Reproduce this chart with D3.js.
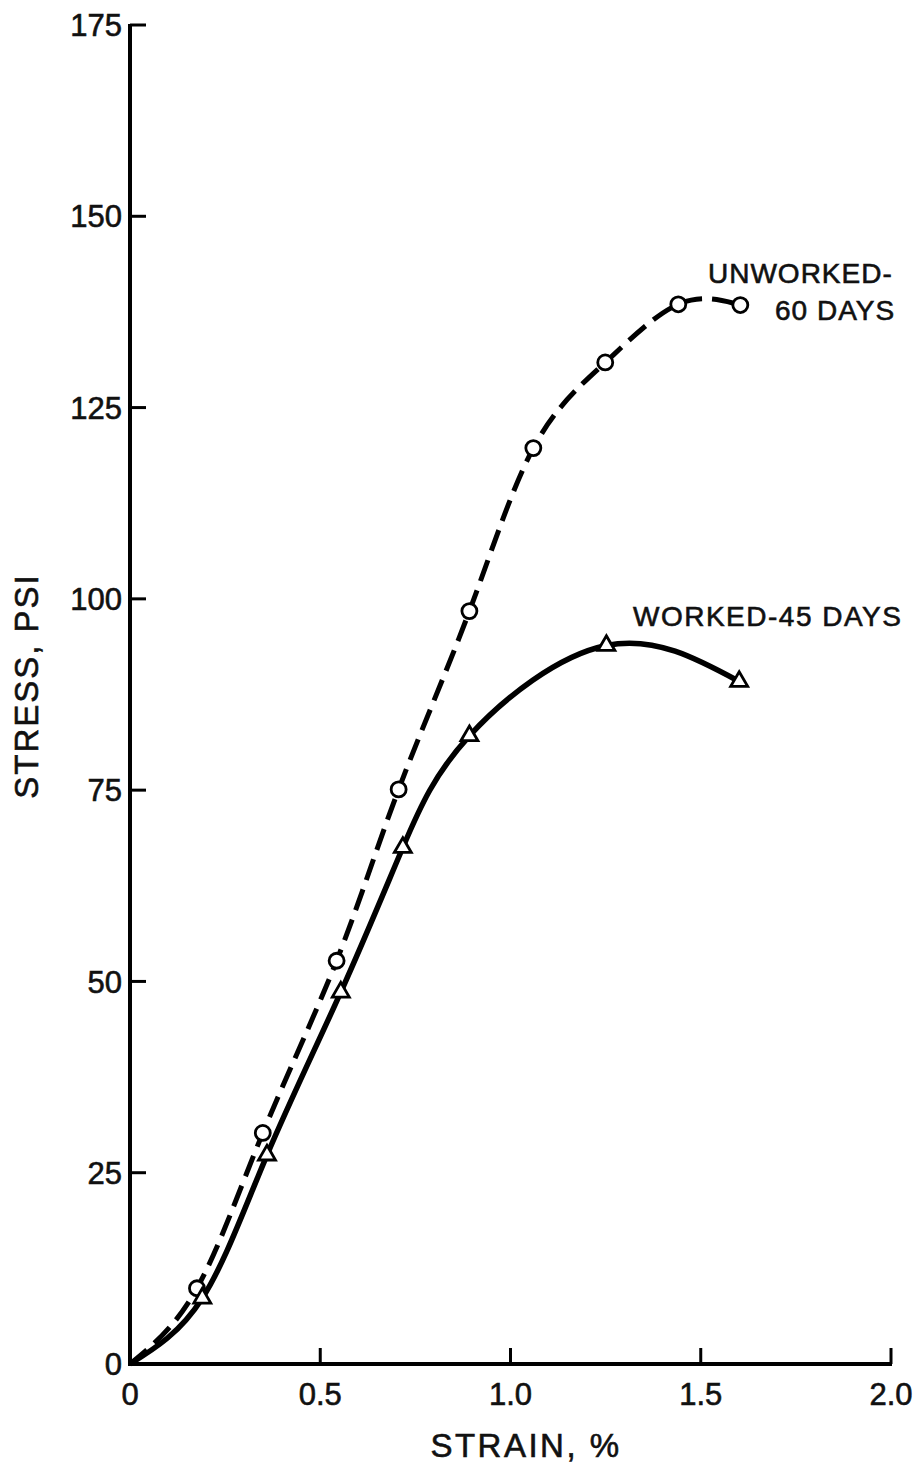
<!DOCTYPE html>
<html>
<head>
<meta charset="utf-8">
<script src="https://cdn.jsdelivr.net/npm/d3@7"></script>
<style>
  html, body { margin: 0; padding: 0; background: #fff; }
  svg { display: block; }
  text { font-family: "Liberation Sans", Arial, sans-serif; fill: #111; stroke: #111; stroke-width: 0.6; }
</style>
</head>
<body>
<svg id="chart" width="922" height="1472"></svg>
<script>
// ---- data ----
const unworkedStrain = [0.176, 0.349, 0.543, 0.706, 0.892, 1.060, 1.249, 1.441, 1.604];
const unworkedStress = [9.9, 30.2, 52.7, 75.1, 98.4, 119.7, 130.9, 138.5, 138.4];
const workedStrain = [0.19, 0.36, 0.554, 0.717, 0.892, 1.252, 1.601];
const workedStress = [8.6, 27.3, 48.6, 67.5, 82.1, 93.9, 89.2];
const curveOrigin = [0, 0];
const xTicks = [0, 0.5, 1.0, 1.5, 2.0];
const xTickLabels = ["0", "0.5", "1.0", "1.5", "2.0"];
const yTicks = [0, 25, 50, 75, 100, 125, 150, 175];
const yTickLabels = ["0", "25", "50", "75", "100", "125", "150", "175"];

// ---- scales ----
const svg = d3.select("#chart");
const x = d3.scaleLinear().domain([0, 2.0]).range([130, 891]);
const y = d3.scaleLinear().domain([0, 175]).range([1364, 25]);

// axes lines
const axisG = svg.append("g");
axisG.append("line").attr("x1", x(0)).attr("x2", x(0)).attr("y1", y(175) - 1).attr("y2", y(0) + 2)
  .attr("stroke", "#000").attr("stroke-width", 4);
axisG.append("line").attr("x1", x(0) - 2).attr("x2", x(2.0) + 1).attr("y1", y(0)).attr("y2", y(0))
  .attr("stroke", "#000").attr("stroke-width", 4);

// y ticks (inward, to right)
yTicks.forEach((t, i) => {
  if (t !== 0) {
    axisG.append("line").attr("x1", x(0)).attr("x2", x(0) + 16).attr("y1", y(t)).attr("y2", y(t))
      .attr("stroke", "#000").attr("stroke-width", 3);
  }
  axisG.append("text").attr("x", 122).attr("y", y(t)).attr("dy", "0.36em")
    .attr("text-anchor", "end").attr("font-size", 31).text(yTickLabels[i]);
});
// x ticks (inward, upward)
xTicks.forEach((t, i) => {
  if (t !== 0) {
    axisG.append("line").attr("x1", x(t)).attr("x2", x(t)).attr("y1", y(0)).attr("y2", y(0) - 16)
      .attr("stroke", "#000").attr("stroke-width", 3);
  }
  axisG.append("text").attr("x", x(t)).attr("y", 1394).attr("dy", "0.36em")
    .attr("text-anchor", "middle").attr("font-size", 31).text(xTickLabels[i]);
});

// axis titles
svg.append("text").attr("x", 526).attr("y", 1445).attr("dy", "0.36em")
  .attr("text-anchor", "middle").attr("font-size", 33).attr("letter-spacing", 2.5).text("STRAIN, %");
svg.append("text").attr("transform", "translate(26,686) rotate(-90)").attr("dy", "0.36em")
  .attr("text-anchor", "middle").attr("font-size", 33).attr("letter-spacing", 2).text("STRESS, PSI");

// curves
const line = d3.line().x(d => x(d[0])).y(d => y(d[1])).curve(d3.curveNatural);
const unworked = unworkedStrain.map((s, i) => [s, unworkedStress[i]]);
const worked = workedStrain.map((s, i) => [s, workedStress[i]]);

svg.append("path").datum([curveOrigin, ...unworked]).attr("d", line)
  .attr("fill", "none").attr("stroke", "#000").attr("stroke-width", 5)
  .attr("stroke-dasharray", "22,10");
svg.append("path").datum([curveOrigin, ...worked]).attr("d", line)
  .attr("fill", "none").attr("stroke", "#000").attr("stroke-width", 5.5);

// markers
svg.append("g").selectAll("circle").data(unworked).join("circle")
  .attr("cx", d => x(d[0])).attr("cy", d => y(d[1])).attr("r", 7.5)
  .attr("fill", "#fff").attr("stroke", "#000").attr("stroke-width", 2.8);
const tri = d3.symbol().type(d3.symbolTriangle).size(125);
svg.append("g").selectAll("path").data(worked).join("path")
  .attr("transform", d => `translate(${x(d[0])},${y(d[1])})`).attr("d", tri)
  .attr("fill", "#fff").attr("stroke", "#000").attr("stroke-width", 2.8);

// annotations
svg.append("text").attr("x", 708).attr("y", 273).attr("dy", "0.36em").attr("font-size", 28)
  .attr("letter-spacing", 1).text("UNWORKED-");
svg.append("text").attr("x", 775).attr("y", 310).attr("dy", "0.36em").attr("font-size", 28)
  .attr("letter-spacing", 1).text("60 DAYS");
svg.append("text").attr("x", 633).attr("y", 616).attr("dy", "0.36em").attr("font-size", 28)
  .attr("letter-spacing", 1.5).text("WORKED-45 DAYS");
</script>
</body>
</html>
